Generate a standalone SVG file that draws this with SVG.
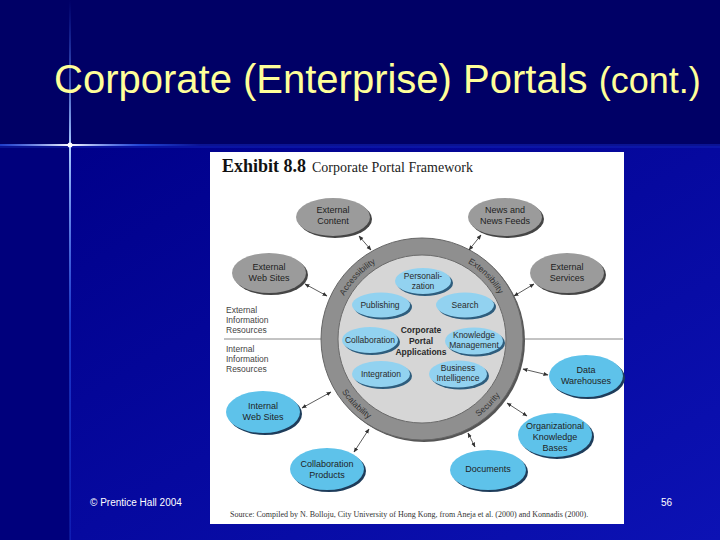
<svg xmlns="http://www.w3.org/2000/svg" width="720" height="540" viewBox="0 0 720 540">
<defs>
<linearGradient id="bgLow" x1="0" y1="0" x2="1" y2="1">
<stop offset="0" stop-color="#00008a"/>
<stop offset="1" stop-color="#0c12b4"/>
</linearGradient>
<linearGradient id="vline" x1="0" y1="0" x2="0" y2="1">
<stop offset="0" stop-color="#3366ff" stop-opacity="0"/>
<stop offset="0.27" stop-color="#aaccff" stop-opacity="1"/>
<stop offset="0.6" stop-color="#3366ff" stop-opacity="0.5"/>
<stop offset="1" stop-color="#3366ff" stop-opacity="0.2"/>
</linearGradient>
<linearGradient id="hline" x1="0" y1="0" x2="1" y2="0">
<stop offset="0" stop-color="#3366ff" stop-opacity="0.5"/>
<stop offset="0.35" stop-color="#ffffff" stop-opacity="1"/>
<stop offset="0.7" stop-color="#3366ff" stop-opacity="0.6"/>
<stop offset="1" stop-color="#3366ff" stop-opacity="0"/>
</linearGradient>
<marker id="ah" viewBox="0 0 10 10" refX="9" refY="5" markerWidth="5" markerHeight="5" orient="auto-start-reverse" markerUnits="userSpaceOnUse">
<path d="M0,1 L10,5 L0,9 Z" fill="#333"/>
</marker>
<path id="arcTop" d="M333,339 A89,89 0 0 1 511,339"/>
<path id="arcBot" d="M326,339 A96,96 0 0 0 518,339"/>
</defs>
<style>
.title{font-family:"Liberation Sans",Arial,sans-serif;fill:#ffff99}
.foot{font-family:"Liberation Sans",Arial,sans-serif;font-size:10px;fill:#ffffff}
.gnode{fill:#9b9b9b}
.gshadow{fill:#454545}
.bnode{fill:#5ec2ea}
.bshadow{fill:#1e3c5a}
.app{fill:#92d2f0}
.ashadow{fill:#2e5d7d}
.nt{font-family:"Liberation Sans",Arial,sans-serif;font-size:9px;fill:#1e1e1e;text-anchor:middle}
.at{font-family:"Liberation Sans",Arial,sans-serif;font-size:8.5px;fill:#2a2a2a;text-anchor:middle}
.side{font-family:"Liberation Sans",Arial,sans-serif;font-size:8.5px;fill:#444}
.ring{font-family:"Liberation Sans",Arial,sans-serif;font-size:8.5px;fill:#333;text-anchor:middle}
.conn line{stroke:#333;stroke-width:0.8;marker-start:url(#ah);marker-end:url(#ah)}
</style>

<!-- background -->
<rect x="0" y="0" width="720" height="540" fill="#000066"/>
<rect x="0" y="148" width="720" height="392" fill="#00007c"/>
<rect x="70" y="146" width="650" height="394" fill="url(#bgLow)"/>
<rect x="0" y="144" width="720" height="4" fill="#1020b0" opacity="0.6"/>
<rect x="69" y="0" width="2" height="540" fill="url(#vline)"/>
<rect x="0" y="144" width="200" height="2" fill="url(#hline)"/>
<circle cx="70" cy="145" r="2.5" fill="#ffffff"/>

<!-- title -->
<text class="title" x="54" y="93" font-size="40">Corporate (Enterprise) Portals <tspan font-size="36">(cont.)</tspan></text>

<!-- exhibit panel -->
<rect x="210" y="152" width="414" height="372" fill="#ffffff"/>
<text x="222" y="172" font-family="'Liberation Serif','Times New Roman',serif" font-size="18" font-weight="bold" fill="#111">Exhibit 8.8</text>
<text x="312" y="172" font-family="'Liberation Serif','Times New Roman',serif" font-size="14" fill="#222">Corporate Portal Framework</text>

<!-- divider -->
<line x1="224" y1="339" x2="321" y2="339" stroke="#888" stroke-width="1"/>
<line x1="523" y1="339" x2="623" y2="339" stroke="#888" stroke-width="1"/>
<g class="side">
<text x="226" y="313">External</text>
<text x="226" y="323">Information</text>
<text x="226" y="333">Resources</text>
<text x="226" y="352">Internal</text>
<text x="226" y="362">Information</text>
<text x="226" y="372">Resources</text>
</g>

<!-- central portal -->
<g id="portal">
<circle cx="424" cy="341" r="101" fill="#555"/>
<circle cx="422" cy="339" r="101" fill="#8f8f8f" stroke="#666" stroke-width="1"/>
<circle cx="422" cy="339" r="84" fill="#d6d6d6" stroke="#6a6a6a" stroke-width="1"/>
<text class="ring"><textPath href="#arcTop" startOffset="68">Accessibility</textPath></text>
<text class="ring"><textPath href="#arcTop" startOffset="210">Extensibility</textPath></text>
<text class="ring"><textPath href="#arcBot" startOffset="75">Scalability</textPath></text>
<text class="ring"><textPath href="#arcBot" startOffset="226">Security</textPath></text>
<text class="at" font-weight="bold" fill="#333" x="421" y="333">Corporate</text>
<text class="at" font-weight="bold" fill="#333" x="421" y="344">Portal</text>
<text class="at" font-weight="bold" fill="#333" x="421" y="355">Applications</text>
</g>

<g id="personalization">
<ellipse class="ashadow" cx="425" cy="283" rx="28" ry="13"/>
<ellipse class="app" cx="423" cy="281" rx="28" ry="13"/>
<text class="at" x="423" y="279">Personali-</text>
<text class="at" x="423" y="289">zation</text>
</g>
<g id="publishing">
<ellipse class="ashadow" cx="383" cy="307" rx="29" ry="12.5"/>
<ellipse class="app" cx="381" cy="305" rx="29" ry="12.5"/>
<text class="at" x="380" y="308">Publishing</text>
</g>
<g id="search">
<ellipse class="ashadow" cx="467" cy="307" rx="29" ry="12.5"/>
<ellipse class="app" cx="465" cy="305" rx="29" ry="12.5"/>
<text class="at" x="465" y="308">Search</text>
</g>
<g id="collaboration">
<ellipse class="ashadow" cx="372" cy="342" rx="28" ry="13"/>
<ellipse class="app" cx="370" cy="340" rx="28" ry="13"/>
<text class="at" x="370" y="343">Collaboration</text>
</g>
<g id="knowledge-management">
<ellipse class="ashadow" cx="476" cy="343" rx="29" ry="13.5"/>
<ellipse class="app" cx="474" cy="341" rx="29" ry="13.5"/>
<text class="at" x="474" y="338">Knowledge</text>
<text class="at" x="474" y="348">Management</text>
</g>
<g id="integration">
<ellipse class="ashadow" cx="383" cy="376" rx="29" ry="13"/>
<ellipse class="app" cx="381" cy="374" rx="29" ry="13"/>
<text class="at" x="381" y="377">Integration</text>
</g>
<g id="business-intelligence">
<ellipse class="ashadow" cx="460" cy="376" rx="29" ry="13.5"/>
<ellipse class="app" cx="458" cy="374" rx="29" ry="13.5"/>
<text class="at" x="458" y="371">Business</text>
<text class="at" x="458" y="381">Intelligence</text>
</g>

<!-- outer nodes -->
<g id="external-content">
<ellipse class="gshadow" cx="335" cy="219" rx="37" ry="19"/>
<ellipse class="gnode" cx="333" cy="217" rx="37" ry="19"/>
<text class="nt" x="333" y="213">External</text>
<text class="nt" x="333" y="224">Content</text>
</g>
<g id="news-feeds">
<ellipse class="gshadow" cx="507" cy="219" rx="37" ry="19"/>
<ellipse class="gnode" cx="505" cy="217" rx="37" ry="19"/>
<text class="nt" x="505" y="213">News and</text>
<text class="nt" x="505" y="224">News Feeds</text>
</g>
<g id="external-web-sites">
<ellipse class="gshadow" cx="271" cy="275" rx="37" ry="20"/>
<ellipse class="gnode" cx="269" cy="273" rx="37" ry="20"/>
<text class="nt" x="269" y="270">External</text>
<text class="nt" x="269" y="281">Web Sites</text>
</g>
<g id="external-services">
<ellipse class="gshadow" cx="569" cy="275" rx="37" ry="20"/>
<ellipse class="gnode" cx="567" cy="273" rx="37" ry="20"/>
<text class="nt" x="567" y="270">External</text>
<text class="nt" x="567" y="281">Services</text>
</g>
<g id="data-warehouses">
<ellipse class="bshadow" cx="588" cy="378" rx="37" ry="21"/>
<ellipse class="bnode" cx="586" cy="376" rx="37" ry="21"/>
<text class="nt" x="586" y="373">Data</text>
<text class="nt" x="586" y="384">Warehouses</text>
</g>
<g id="internal-web-sites">
<ellipse class="bshadow" cx="265" cy="414" rx="37" ry="21"/>
<ellipse class="bnode" cx="263" cy="412" rx="37" ry="21"/>
<text class="nt" x="263" y="409">Internal</text>
<text class="nt" x="263" y="420">Web Sites</text>
</g>
<g id="organizational-knowledge-bases">
<ellipse class="bshadow" cx="557" cy="437" rx="37" ry="22"/>
<ellipse class="bnode" cx="555" cy="435" rx="37" ry="22"/>
<text class="nt" x="555" y="429">Organizational</text>
<text class="nt" x="555" y="440">Knowledge</text>
<text class="nt" x="555" y="451">Bases</text>
</g>
<g id="collaboration-products">
<ellipse class="bshadow" cx="329" cy="471" rx="37" ry="21"/>
<ellipse class="bnode" cx="327" cy="469" rx="37" ry="21"/>
<text class="nt" x="327" y="467">Collaboration</text>
<text class="nt" x="327" y="478">Products</text>
</g>
<g id="documents">
<ellipse class="bshadow" cx="490" cy="472" rx="38" ry="20"/>
<ellipse class="bnode" cx="488" cy="470" rx="38" ry="20"/>
<text class="nt" x="488" y="472">Documents</text>
</g>

<!-- connectors -->
<g class="conn" id="connectors">
<line x1="359" y1="236" x2="371" y2="250"/>
<line x1="481" y1="235" x2="469" y2="250"/>
<line x1="305" y1="284" x2="327" y2="296"/>
<line x1="534" y1="284" x2="514" y2="296"/>
<line x1="523" y1="369" x2="548" y2="375"/>
<line x1="302" y1="408" x2="331" y2="392"/>
<line x1="507" y1="403" x2="527" y2="416"/>
<line x1="354" y1="452" x2="369" y2="429"/>
<line x1="468" y1="433" x2="475" y2="447"/>
</g>

<text x="230" y="517" font-family="'Liberation Serif','Times New Roman',serif" font-size="8" fill="#333">Source: Compiled by N. Bolloju, City University of Hong Kong, from Aneja et al. (2000) and Konnadis (2000).</text>

<!-- footer -->
<text class="foot" x="90" y="506">© Prentice Hall 2004</text>
<text class="foot" x="661" y="506">56</text>
</svg>
